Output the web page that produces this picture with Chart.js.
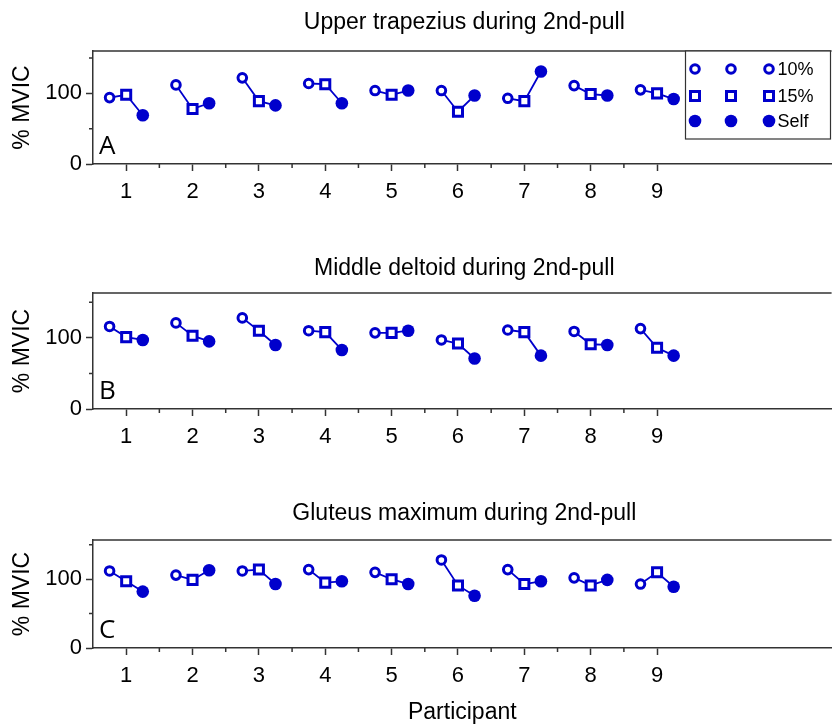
<!DOCTYPE html>
<html>
<head>
<meta charset="utf-8">
<script src="https://cdn.jsdelivr.net/npm/chart.js@4.4.1/dist/chart.umd.min.js"></script>
<style>
  body { margin: 0; background: #fff; }
  #wrap { position: relative; width: 832px; height: 726px; overflow: hidden; }
  canvas { position: absolute; left: 0; }
</style>
</head>
<body>
<div id="wrap">
  <canvas id="ChartA" width="841" height="200" style="top:0px"></canvas>
  <canvas id="ChartB" width="841" height="203" style="top:242px"></canvas>
  <canvas id="ChartC" width="841" height="237" style="top:489px"></canvas>
</div>
<script>
// participants on the x axis
const participants = [1, 2, 3, 4, 5, 6, 7, 8, 9];
const conditions = ['10%', '15%', 'Self'];

// % MVIC, upper trapezius
const trapTen      = [94, 112, 122, 114, 104, 104, 93, 111, 105];
const trapFifteen  = [98, 78, 89, 113, 98, 74, 89, 99, 100];
const trapSelf     = [69, 86, 83, 86, 104, 97, 131, 97, 92];

// % MVIC, middle deltoid
const deltTen      = [116, 121, 128, 110, 107, 97, 111, 109, 113];
const deltFifteen  = [101, 103, 110, 108, 107, 92, 108, 91, 86];
const deltSelf     = [97, 95, 90, 83, 110, 71, 75, 90, 75];

// % MVIC, gluteus maximum
const glutTen      = [112, 106, 112, 114, 110, 128, 114, 102, 93];
const glutFifteen  = [97, 99, 114, 95, 100, 91, 93, 91, 110];
const glutSelf     = [82, 113, 93, 97, 93, 76, 97, 99, 89];

const yMajorTicks = [0, 100];
const yMinorTicks = [50, 150];
const xMinorTicks = [1.5, 2.5, 3.5, 4.5, 5.5, 6.5, 7.5, 8.5];

const blue = '#0000cc';
const ink = '#333333';
const textColor = '#000000';
const fontFamily = "'Liberation Sans', Arial, sans-serif";
const offsets = [-0.25, 0, 0.25];   // 10%, 15%, Self sit around each participant

function drawMarker(ctx, kind, x, y) {
    ctx.save();
    ctx.strokeStyle = blue;
    ctx.fillStyle = blue;
    ctx.lineWidth = 3;
    ctx.beginPath();
    if (kind === 0) {
        ctx.arc(x, y, 4.3, 0, Math.PI * 2);
        ctx.fillStyle = '#fff';
        ctx.fill();
        ctx.stroke();
    } else if (kind === 1) {
        ctx.rect(x - 4.5, y - 4.5, 9, 9);
        ctx.fillStyle = '#fff';
        ctx.fill();
        ctx.stroke();
    } else {
        ctx.arc(x, y, 6.3, 0, Math.PI * 2);
        ctx.fill();
    }
    ctx.restore();
}

const panelDecor = {
    id: 'panelDecor',
    afterDraw(chart, args, opts) {
        const ctx = chart.ctx;
        const a = chart.chartArea;
        const xs = chart.scales.x;
        const ys = chart.scales.y;
        ctx.save();
        ctx.strokeStyle = ink;
        ctx.lineWidth = 1.5;
        ctx.beginPath();
        ctx.moveTo(a.left, a.top);
        ctx.lineTo(a.right, a.top);
        xMinorTicks.forEach(v => {
            const px = xs.getPixelForValue(v);
            ctx.moveTo(px, a.bottom);
            ctx.lineTo(px, a.bottom + 4);
        });
        yMinorTicks.forEach(v => {
            const py = ys.getPixelForValue(v);
            ctx.moveTo(a.left, py);
            ctx.lineTo(a.left - 4, py);
        });
        ctx.stroke();

        ctx.fillStyle = textColor;
        ctx.font = '23px ' + fontFamily;
        ctx.textAlign = 'center';
        ctx.textBaseline = 'middle';
        ctx.fillText(opts.title, (a.left + a.right) / 2 + 2, a.top - opts.titleGap);

        ctx.font = "26px 'Open Sans', 'DejaVu Sans', sans-serif";
        ctx.textAlign = 'left';
        ctx.textBaseline = 'alphabetic';
        ctx.fillText(opts.letter, a.left + 6, a.bottom - 10);

        if (opts.legend) {
            const lx = 685.5, ly = a.top, lw = 145, lh = 88;
            ctx.strokeStyle = ink;
            ctx.lineWidth = 1.2;
            ctx.fillStyle = '#fff';
            ctx.fillRect(lx, ly, lw, lh);
            ctx.strokeRect(lx, ly, lw, lh);
            const cols = [9.5, 45.5, 83.5];
            const rows = [18, 45, 70];
            ctx.font = '18px ' + fontFamily;
            ctx.textBaseline = 'middle';
            conditions.forEach((name, r) => {
                cols.forEach(c => drawMarker(ctx, r, lx + c, ly + rows[r]));
                ctx.fillStyle = textColor;
                ctx.fillText(name, lx + 92, ly + rows[r] + 1);
            });
        }
        ctx.restore();
    }
};

function buildPanel(id, ten, fifteen, self, opts) {
    const series = [ten, fifteen, self];
    const markerSets = series.map((vals, k) => ({
        label: conditions[k],
        data: participants.map((p, i) => ({ x: p + offsets[k], y: vals[i] })),
        pointStyle: k === 1 ? 'rect' : 'circle',
        pointRadius: k === 1 ? 6.4 : (k === 0 ? 4.3 : 6.3),
        borderWidth: k === 2 ? 0 : 3,
        borderColor: blue,
        backgroundColor: k === 2 ? blue : '#ffffff',
        showLine: false
    }));

    const joined = [];
    participants.forEach((p, i) => {
        series.forEach((vals, k) => joined.push({ x: p + offsets[k], y: vals[i] }));
        joined.push({ x: p + 0.5, y: null });
    });

    const ctx = document.getElementById(id);
    new Chart(ctx, {
        type: 'scatter',
        data: {
            datasets: markerSets.concat([{
                label: 'joined',
                data: joined,
                showLine: true,
                spanGaps: false,
                borderColor: blue,
                borderWidth: 1.8,
                pointRadius: 0
            }])
        },
        plugins: [panelDecor],
        options: {
            responsive: false,
            animation: false,
            layout: { padding: { top: 51, left: 0, right: 0, bottom: 0 } },
            plugins: {
                legend: { display: false },
                tooltip: { enabled: false },
                panelDecor: opts
            },
            scales: {
                x: {
                    type: 'linear',
                    min: 0.5,
                    max: 11.63,
                    afterBuildTicks: s => { s.ticks = participants.map(v => ({ value: v })); },
                    afterFit: s => { s.height = opts.xHeight; },
                    ticks: {
                        autoSkip: false,
                        maxRotation: 0,
                        padding: 8,
                        color: textColor,
                        font: { family: fontFamily, size: 22 }
                    },
                    grid: { drawOnChartArea: false, tickLength: 7, tickColor: ink, tickWidth: 1.5 },
                    border: { color: ink, width: 1.5 },
                    title: {
                        display: opts.xTitle,
                        text: 'Participant',
                        color: textColor,
                        padding: { top: 0, bottom: 0 },
                        font: { family: fontFamily, size: 23 }
                    }
                },
                y: {
                    min: 0,
                    max: opts.yMax,
                    afterBuildTicks: s => { s.ticks = yMajorTicks.map(v => ({ value: v })); },
                    afterFit: s => { s.width = 93; },
                    ticks: {
                        padding: 4,
                        color: textColor,
                        font: { family: fontFamily, size: 22 }
                    },
                    grid: { drawOnChartArea: false, tickLength: 7, tickColor: ink, tickWidth: 1.5 },
                    border: { color: ink, width: 1.5 },
                    title: {
                        display: true,
                        text: '% MVIC',
                        color: textColor,
                        padding: { top: 9, bottom: 0 },
                        font: { family: fontFamily, size: 23 }
                    }
                }
            }
        }
    });
}

buildPanel('ChartA', trapTen, trapFifteen, trapSelf,
    { title: 'Upper trapezius during 2nd-pull', letter: 'A', titleGap: 28, yMax: 160, xHeight: 36, xTitle: false, legend: true });
buildPanel('ChartB', deltTen, deltFifteen, deltSelf,
    { title: 'Middle deltoid during 2nd-pull', letter: 'B', titleGap: 24, yMax: 163, xHeight: 36, xTitle: false, legend: false });
buildPanel('ChartC', glutTen, glutFifteen, glutSelf,
    { title: 'Gluteus maximum during 2nd-pull', letter: 'C', titleGap: 26, yMax: 157, xHeight: 78, xTitle: true, legend: false });
</script>
</body>
</html>
